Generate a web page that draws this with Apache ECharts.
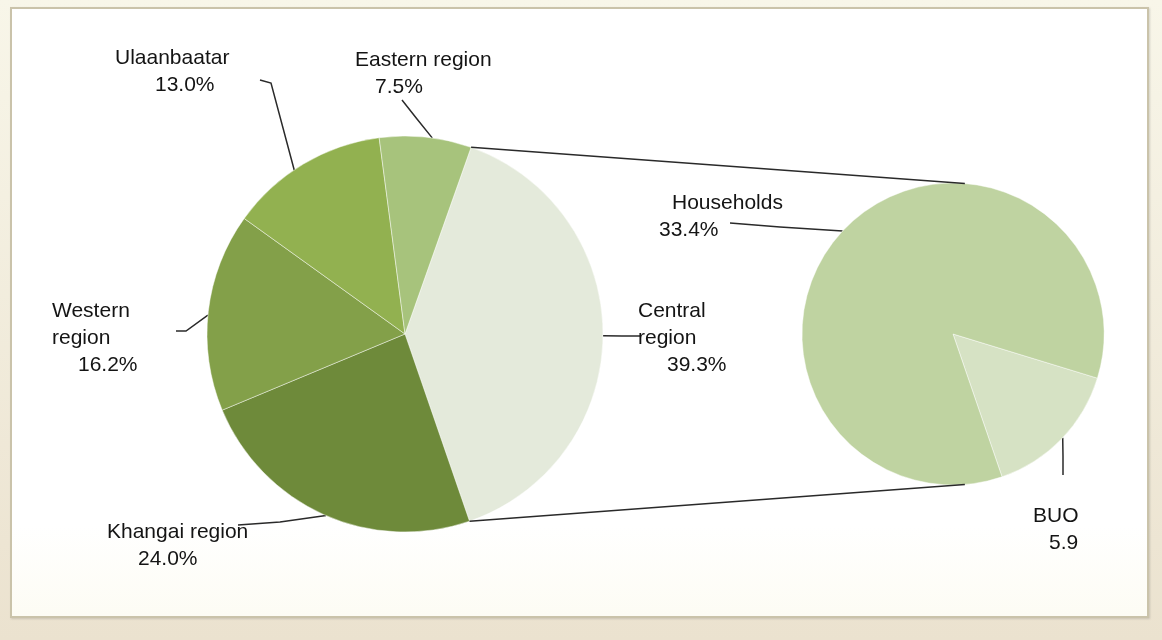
<!DOCTYPE html>
<html>
<head>
<meta charset="utf-8">
<script src="https://cdn.jsdelivr.net/npm/echarts@6/dist/echarts.min.js"></script>
<style>
  html, body { margin: 0; padding: 0; }
  body { width: 1162px; height: 640px; position: relative; overflow: hidden;
         background: linear-gradient(#f8f6e9, #ebe2cf); }
  #panel { position: absolute; left: 10px; top: 7px; width: 1135px; height: 607px;
           background: linear-gradient(#ffffff 85%, #fdfcf4); border: 2px solid #cac3aa;
           box-shadow: 1px 1px 2px rgba(0,0,0,0.15); }
  #main { position: absolute; left: 0; top: 0; width: 1162px; height: 640px; }
</style>
</head>
<body>
<div id="panel"></div>
<div id="main"></div>
<script>
// data
const regions = ['Central\nregion', 'Khangai region', 'Western\nregion', 'Ulaanbaatar', 'Eastern region'];
const regionShares = [39.3, 24.0, 16.2, 13.0, 7.5];
const centralParts = ['BUO', 'Households'];
const centralShares = [5.9, 33.4];
const centralUnits = ['', '%'];

// geometry of both pies
const bigPie = { cx: 405, cy: 334, r: 198, start: 70.5 };
const smallPie = { cx: 953, cy: 334, r: 151, start: -17 };

const regionColors = ['#e4eadb', '#6e8a3a', '#83a049', '#92b150', '#a7c37c'];
const partColors = ['#d6e2c4', '#bfd3a1'];

// where each label sits, with the indent of its lines and its leader line
const regionSpots = [
  { x: 638, y: 298, indent: [0, 29], angle: 90.5, rf: 1, knee: [622, 336], end: [640, 336] },
  { x: 107, y: 519, indent: [0, 31], angle: 203.5, rf: 1, knee: [280, 522], end: [238, 525] },
  { x: 52, y: 298, indent: [0, 26], angle: 275.5, rf: 1, knee: [186, 331], end: [176, 331] },
  { x: 115, y: 45, indent: [0, 40], angle: 324, rf: 0.91, knee: [271, 83], end: [260, 80] },
  { x: 355, y: 47, indent: [0, 20], angle: 7.9, rf: 1, knee: [417, 119], end: [402, 100] }
];
const partSpots = [
  { x: 1033, y: 503, indent: [0, 16], angle: 133.4, rf: 1, knee: [1063, 456], end: [1063, 475] },
  { x: 659, y: 190, indent: [13, 0], angle: 313, rf: 1, knee: [780, 227], end: [730, 223] }
];

const labelFont = { fontFamily: 'Liberation Sans, Arial, sans-serif', fontSize: 21, color: '#141414', lineHeight: 27 };

function itemsOf(names, values, colors, spots, units) {
  return names.map(function (name, i) {
    return {
      name: name,
      value: values[i],
      unit: units ? units[i] : '%',
      itemStyle: { color: colors[i] },
      label: {
        rich: {
          n: Object.assign({ padding: [0, 0, 0, spots[i].indent[0]] }, labelFont),
          v: Object.assign({ padding: [0, 0, 0, spots[i].indent[1]] }, labelFont)
        }
      }
    };
  });
}

function labelText(params) {
  const unit = params.data.unit;
  const lines = params.name.split('\n').map(function (s) { return '{n|' + s + '}'; });
  lines.push('{v|' + params.value.toFixed(1) + unit + '}');
  return lines.join('\n');
}

function pointOn(pie, angle, rf) {
  const a = angle * Math.PI / 180;
  return [pie.cx + pie.r * rf * Math.sin(a), pie.cy - pie.r * rf * Math.cos(a)];
}

function layoutFor(pie, spots) {
  return function (params) {
    const s = spots[params.dataIndex];
    return {
      x: s.x, y: s.y, align: 'left', verticalAlign: 'top',
      labelLinePoints: [pointOn(pie, s.angle, s.rf), s.knee, s.end]
    };
  };
}

function pieSeries(pie, data, spots) {
  return {
    type: 'pie',
    center: [pie.cx, pie.cy],
    radius: pie.r,
    startAngle: pie.start,
    clockwise: true,
    avoidLabelOverlap: false,
    minShowLabelAngle: 0,
    silent: true,
    itemStyle: { borderColor: 'rgba(255,255,255,0.45)', borderWidth: 1 },
    label: Object.assign({ show: true, position: 'outside', formatter: labelText }, labelFont),
    labelLine: { show: true, smooth: false, lineStyle: { color: '#2a2a2a', width: 1.5 } },
    labelLayout: layoutFor(pie, spots),
    emphasis: { disabled: true },
    data: data
  };
}

// connectors: edges of the Central slice to the top and bottom of the small pie
const total = regionShares.reduce(function (a, b) { return a + b; }, 0);
const centralFrom = 90 - bigPie.start;
const centralTo = centralFrom + 360 * regionShares[0] / total;
const connectors = [
  [pointOn(bigPie, centralFrom, 1), pointOn(smallPie, 4.5, 1)],
  [pointOn(bigPie, centralTo, 1), pointOn(smallPie, 175.5, 1)]
].map(function (pts) {
  return {
    type: 'line', z: 10, silent: true,
    shape: { x1: pts[0][0], y1: pts[0][1], x2: pts[1][0], y2: pts[1][1] },
    style: { stroke: '#2a2a2a', lineWidth: 1.5 }
  };
});

const chart = echarts.init(document.getElementById('main'), null, { renderer: 'canvas' });
chart.setOption({
  animation: false,
  backgroundColor: 'transparent',
  graphic: connectors,
  series: [
    pieSeries(bigPie, itemsOf(regions, regionShares, regionColors, regionSpots), regionSpots),
    pieSeries(smallPie, itemsOf(centralParts, centralShares, partColors, partSpots, centralUnits), partSpots)
  ]
});
</script>
</body>
</html>
